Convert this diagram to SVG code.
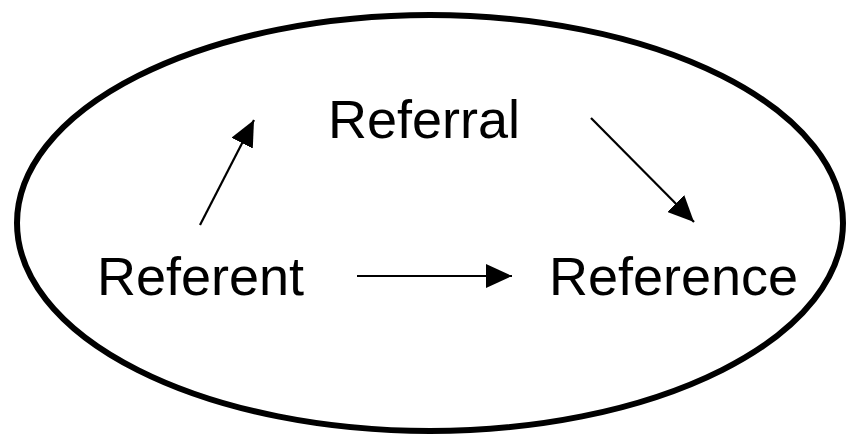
<svg xmlns="http://www.w3.org/2000/svg" width="848" height="438" viewBox="0 0 848 438">
<style>
.lbl{font-family:"Liberation Sans",Arial,sans-serif;font-size:54px;fill:#000}
.edge{stroke:#000;stroke-width:2.2;fill:none;marker-end:url(#ah)}
</style>
<defs>
<marker id="ah" viewBox="0 0 26 24" refX="26" refY="12" markerWidth="26" markerHeight="24" markerUnits="userSpaceOnUse" orient="auto">
<path d="M0,0 L26,12 L0,24 z" fill="#000"/>
</marker>
</defs>
<rect width="848" height="438" fill="#fff"/>
<g id="boundary">
<ellipse cx="430" cy="223" rx="413" ry="208" fill="none" stroke="#000" stroke-width="6"/>
</g>
<g id="connectors">
<line class="edge" x1="200" y1="225" x2="254" y2="120"/>
<line class="edge" x1="591" y1="118" x2="694" y2="222"/>
<line class="edge" x1="357" y1="276" x2="512" y2="276"/>
</g>
<g id="referral"><text class="lbl" x="328" y="138">Referral</text></g>
<g id="referent"><text class="lbl" x="97" y="295">Referent</text></g>
<g id="reference"><text class="lbl" x="549" y="295">Reference</text></g>
</svg>
